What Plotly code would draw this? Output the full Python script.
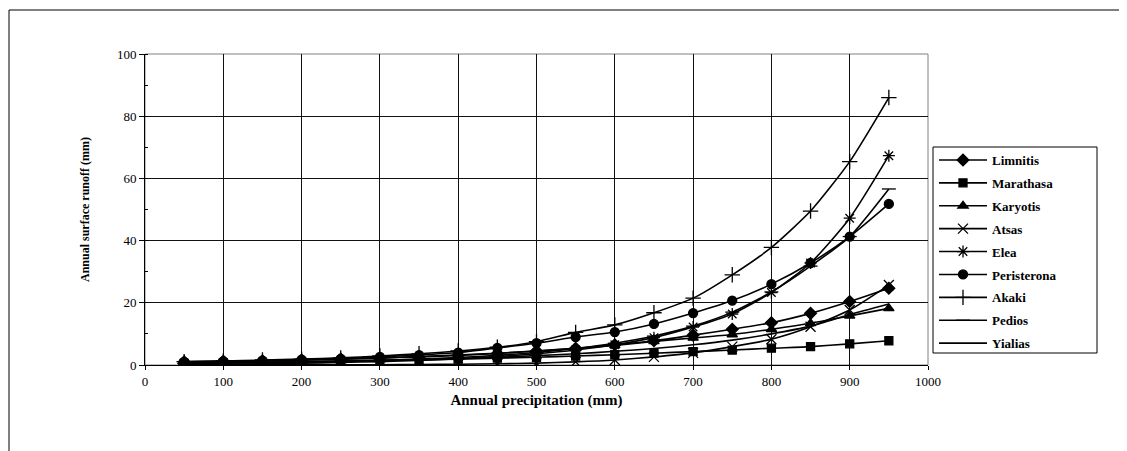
import plotly.graph_objects as go

precip = [50, 100, 150, 200, 250, 300, 350, 400, 450, 500, 550, 600, 650, 700, 750, 800, 850, 900, 950]

limnitis    = [1.0, 1.2, 1.4, 1.6, 1.9, 2.2, 2.6, 3.1, 3.7, 4.5, 5.4, 6.5, 7.8, 9.6, 11.5, 13.6, 16.6, 20.4, 24.7]
marathasa   = [0.5, 0.7, 0.8, 1.0, 1.2, 1.4, 1.6, 1.9, 2.2, 2.5, 2.9, 3.3, 3.8, 4.3, 4.8, 5.4, 5.9, 6.8, 7.8]
karyotis    = [0.9, 1.1, 1.3, 1.6, 1.9, 2.3, 2.7, 3.2, 3.8, 4.5, 5.3, 6.3, 7.6, 8.7, 9.8, 11.5, 13.4, 15.8, 18.2]
atsas       = [0.02, 0.03, 0.04, 0.05, 0.07, 0.1, 0.15, 0.25, 0.4, 0.6, 1.0, 1.6, 2.6, 3.9, 5.9, 8.3, 12.3, 17.7, 25.7]
elea        = [0.2, 0.3, 0.4, 0.6, 0.8, 1.1, 1.5, 2.0, 2.7, 3.6, 4.8, 6.5, 8.8, 12.2, 16.4, 23.3, 32.8, 47.2, 67.3]
peristerona = [1.0, 1.2, 1.4, 1.7, 2.0, 2.6, 3.2, 4.0, 5.5, 7.0, 9.0, 10.6, 13.2, 16.7, 20.7, 26.0, 32.8, 41.3, 51.8]
akaki       = [1.1, 1.3, 1.6, 1.9, 2.3, 2.9, 3.6, 4.5, 5.7, 7.5, 10.5, 12.9, 16.8, 21.5, 29.0, 37.8, 49.5, 65.4, 86.0]
pedios      = [0.5, 0.6, 0.8, 1.0, 1.2, 1.5, 1.9, 2.4, 3.1, 4.0, 5.3, 7.0, 9.3, 12.5, 17.0, 23.5, 31.8, 41.3, 56.6]
yialias     = [0.7, 0.8, 0.9, 1.1, 1.3, 1.5, 1.8, 2.1, 2.5, 3.0, 3.6, 4.4, 5.3, 6.5, 8.0, 10.0, 12.5, 16.2, 19.6]

names = ["Limnitis", "Marathasa", "Karyotis", "Atsas", "Elea", "Peristerona", "Akaki", "Pedios", "Yialias"]
series = [limnitis, marathasa, karyotis, atsas, elea, peristerona, akaki, pedios, yialias]
symbols = ["diamond", "square", "triangle-up", "x-thin-open", "asterisk-open", "circle",
           "cross-thin-open", "line-ew-open", None]
sizes = [9, 8, 9, 10, 10, 9, 11, 10, 0]

fig = go.Figure()
for name, vals, sym, sz in zip(names, series, symbols, sizes):
    if sym is None:
        fig.add_trace(go.Scatter(x=precip, y=vals, name=name, mode="lines", legendgroup=name,
                                 line=dict(color="black", width=1.6, shape="spline", smoothing=0.6)))
    else:
        fig.add_trace(go.Scatter(x=precip, y=vals, name=name, mode="lines+markers", legendgroup=name,
                                 line=dict(color="black", width=1.6, shape="spline", smoothing=0.6),
                                 marker=dict(symbol=sym, size=sz, color="black",
                                             line=dict(color="black", width=1.3))))

# page has an 8px body margin, so figure coords = page coords - 8
OFF = 8
L, R, T, B = 145 - OFF, 928 - OFF, 54 - OFF, 365 - OFF
W, H = R - L, B - T

def px(x):
    return (x - OFF - L) / W

def py(y):
    return (B - (y - OFF)) / H

serif = "'Liberation Serif', 'Times New Roman', Times, 'DejaVu Serif', serif"

fig.update_layout(
    width=1127, height=451,
    margin=dict(l=L, r=1127 - R, t=T, b=451 - B),
    paper_bgcolor="white", plot_bgcolor="white",
    font=dict(family=serif, color="black", size=13),
    showlegend=True,
    legend=dict(x=px(934), y=py(145), xanchor="left", yanchor="top",
                borderwidth=0, bgcolor="rgba(0,0,0,0)",
                font=dict(family=serif, size=13, color="black", weight="bold"),
                tracegroupgap=3, itemwidth=48),
    xaxis=dict(range=[0, 1000], dtick=100, tick0=0, showgrid=True, gridcolor="#111", gridwidth=1,
               showline=True, linecolor="black", linewidth=1, ticks="outside", ticklen=4,
               tickcolor="black", zeroline=False,
               tickfont=dict(family=serif, size=13),
               title=dict(text="Annual precipitation (mm)", standoff=6,
                          font=dict(family=serif, size=15, weight="bold"))),
    yaxis=dict(range=[0, 100], dtick=20, tick0=0, showgrid=True, gridcolor="#111", gridwidth=1,
               showline=True, linecolor="black", linewidth=1, ticks="outside", ticklen=5,
               tickcolor="black", zeroline=False,
               minor=dict(dtick=10, ticks="inside", ticklen=3, tickcolor="black", showgrid=False),
               tickfont=dict(family=serif, size=13),
               title=dict(text="Annual surface runoff (mm)", standoff=24,
                          font=dict(family=serif, size=12, weight="bold"))),
    shapes=[
        dict(type="rect", xref="paper", yref="paper", x0=0, x1=1, y0=0, y1=1,
             line=dict(color="#808080", width=1), layer="below"),
        dict(type="line", xref="paper", yref="paper", x0=px(9), x1=px(1127), y0=py(10), y1=py(10),
             line=dict(color="black", width=1)),
        dict(type="line", xref="paper", yref="paper", x0=px(9), x1=px(9), y0=py(10), y1=py(451),
             line=dict(color="black", width=1)),
        dict(type="rect", xref="paper", yref="paper", x0=px(933), x1=px(1097), y0=py(147), y1=py(353),
             line=dict(color="black", width=1), fillcolor="white", layer="below"),
    ],
)

fig.write_html("out.html")
